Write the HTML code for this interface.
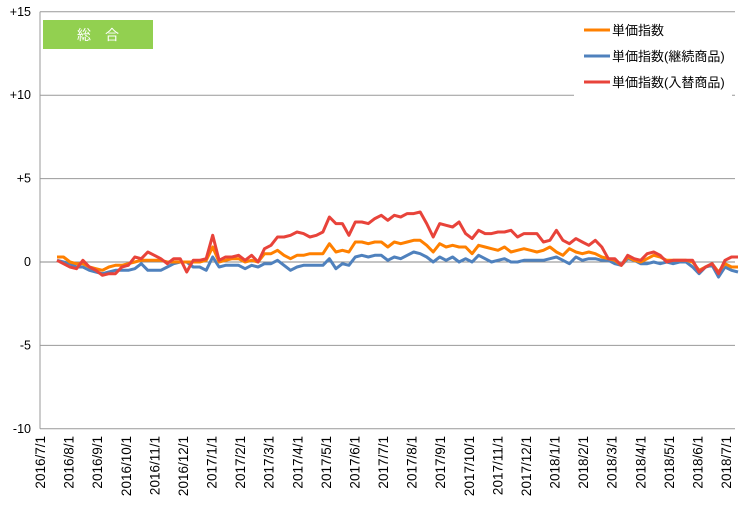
<!DOCTYPE html>
<html><head><meta charset="utf-8"><style>
body{margin:0;background:#fff;}
svg text{font-family:"Liberation Sans","Noto Sans CJK JP",sans-serif;}
</style></head><body>
<svg width="742" height="509">
<g id="grid"></g>
<g id="ylabels"></g>
<g id="xlabels"></g>
<g id="series"></g>
<rect x="574" y="14" width="158" height="84" fill="#fff"/>
<g>
<g><line x1="584" y1="30" x2="610" y2="30" stroke="#ff8000" stroke-width="3"/><text x="612" y="35" font-size="13">単価指数</text></g>
<g><line x1="584" y1="56" x2="610" y2="56" stroke="#4f81bd" stroke-width="3"/><text x="612" y="61" font-size="13">単価指数(継続商品)</text></g>
<g><line x1="584" y1="82" x2="610" y2="82" stroke="#e8433a" stroke-width="3"/><text x="612" y="87" font-size="13">単価指数(入替商品)</text></g>
</g>
<rect x="43" y="20" width="110" height="29" fill="#92d050"/>
<text x="98" y="40" font-size="14" fill="#fff" text-anchor="middle">総　合</text>
</svg>
<script>
const yTicks=[15,10,5,0,-5,-10];
const yTickLabels=["+15","+10","+5","0","-5","-10"];
const xTickLabels=["2016/7/1","2016/8/1","2016/9/1","2016/10/1","2016/11/1","2016/12/1","2017/1/1","2017/2/1","2017/3/1","2017/4/1","2017/5/1","2017/6/1","2017/7/1","2017/8/1","2017/9/1","2017/10/1","2017/11/1","2017/12/1","2018/1/1","2018/2/1","2018/3/1","2018/4/1","2018/5/1","2018/6/1","2018/7/1"];
const seriesTotal=[0.3,0.3,0,-0.1,-0.1,-0.3,-0.4,-0.5,-0.3,-0.2,-0.2,-0.1,0,0.1,0.1,0.1,0.1,0,0,0,0,0,0,0.1,0.9,0,0.1,0.2,0.2,0,0.1,0,0.5,0.5,0.7,0.4,0.2,0.4,0.4,0.5,0.5,0.5,1.1,0.6,0.7,0.6,1.2,1.2,1.1,1.2,1.2,0.9,1.2,1.1,1.2,1.3,1.3,1.0,0.6,1.1,0.9,1.0,0.9,0.9,0.5,1.0,0.9,0.8,0.7,0.9,0.6,0.7,0.8,0.7,0.6,0.7,0.9,0.6,0.4,0.8,0.6,0.5,0.6,0.5,0.3,0.2,0.1,-0.2,0.3,0.1,0,0.2,0.4,0.3,0.1,0.1,0.1,0.1,0,-0.5,-0.3,-0.1,-0.6,-0.1,-0.3,-0.3];
const seriesContinuing=[0.1,0,-0.1,-0.3,-0.3,-0.5,-0.6,-0.7,-0.6,-0.5,-0.5,-0.5,-0.4,-0.1,-0.5,-0.5,-0.5,-0.3,-0.1,0,0,-0.3,-0.3,-0.5,0.3,-0.3,-0.2,-0.2,-0.2,-0.4,-0.2,-0.3,-0.1,-0.1,0.1,-0.2,-0.5,-0.3,-0.2,-0.2,-0.2,-0.2,0.2,-0.4,-0.1,-0.2,0.3,0.4,0.3,0.4,0.4,0.1,0.3,0.2,0.4,0.6,0.5,0.3,0,0.3,0.1,0.3,0,0.2,0,0.4,0.2,0,0.1,0.2,0,0,0.1,0.1,0.1,0.1,0.2,0.3,0.1,-0.1,0.3,0.1,0.2,0.2,0.1,0.1,-0.1,-0.2,0.2,0.1,-0.1,-0.1,0,-0.1,0,-0.1,0,0,-0.3,-0.7,-0.3,-0.2,-0.9,-0.3,-0.5,-0.6];
const seriesReplaced=[0.1,-0.1,-0.3,-0.4,0.1,-0.3,-0.5,-0.8,-0.7,-0.7,-0.3,-0.2,0.3,0.2,0.6,0.4,0.2,-0.1,0.2,0.2,-0.6,0.1,0.1,0.2,1.6,0.1,0.3,0.3,0.4,0.1,0.4,0,0.8,1.0,1.5,1.5,1.6,1.8,1.7,1.5,1.6,1.8,2.7,2.3,2.3,1.6,2.4,2.4,2.3,2.6,2.8,2.5,2.8,2.7,2.9,2.9,3.0,2.3,1.5,2.3,2.2,2.1,2.4,1.7,1.4,1.9,1.7,1.7,1.8,1.8,1.9,1.5,1.7,1.7,1.7,1.2,1.3,1.9,1.3,1.1,1.4,1.2,1.0,1.3,0.9,0.2,0.2,-0.2,0.4,0.2,0.1,0.5,0.6,0.4,0,0.1,0.1,0.1,0.1,-0.6,-0.3,-0.1,-0.7,0.1,0.3,0.3];
const NS="http://www.w3.org/2000/svg";
const y=v=>262-v*16.68;
const xi=(i,n)=>57+i*(738-57)/(n-1);
const xm=i=>40+i*(726-40)/24;
function mk(t,a){const e=document.createElementNS(NS,t);for(const k in a)e.setAttribute(k,a[k]);return e;}
const grid=document.getElementById('grid'),yl=document.getElementById('ylabels'),xl=document.getElementById('xlabels'),sg=document.getElementById('series');
yTicks.forEach((v,i)=>{
 const l=mk('line',{x1:40,x2:735,y1:y(v),y2:y(v),stroke:v===0?'#888':'#999','stroke-width':1});
 
 
 grid.appendChild(l);
 const t=mk('text',{x:31,y:y(v)+4,'font-size':12.5,'text-anchor':'end'});
 t.textContent=yTickLabels[i];
 
 
 yl.appendChild(t);
});
const ax=mk('line',{x1:40,x2:40,y1:y(15),y2:y(-10),stroke:'#999'});


grid.appendChild(ax);
xTickLabels.forEach((s,i)=>{
 const x=xm(i)+5;
 const t=mk('text',{x:0,y:0,'font-size':13.5,'text-anchor':'end',transform:`translate(${x},436) rotate(-90)`});
 t.textContent=s;
 
 
 xl.appendChild(t);
});
[[seriesContinuing,'#4f81bd','line-continuing'],[seriesTotal,'#ff8000','line-total'],[seriesReplaced,'#e8433a','line-replaced']].forEach(([d,c,n])=>{
 const pts=d.map((v,i)=>xi(i,d.length).toFixed(1)+','+y(v).toFixed(1)).join(' ');
 const p=mk('polyline',{points:pts,fill:'none',stroke:c,'stroke-width':3,'stroke-linejoin':'round'});
 
 
 sg.appendChild(p);
});
</script>
</body></html>
